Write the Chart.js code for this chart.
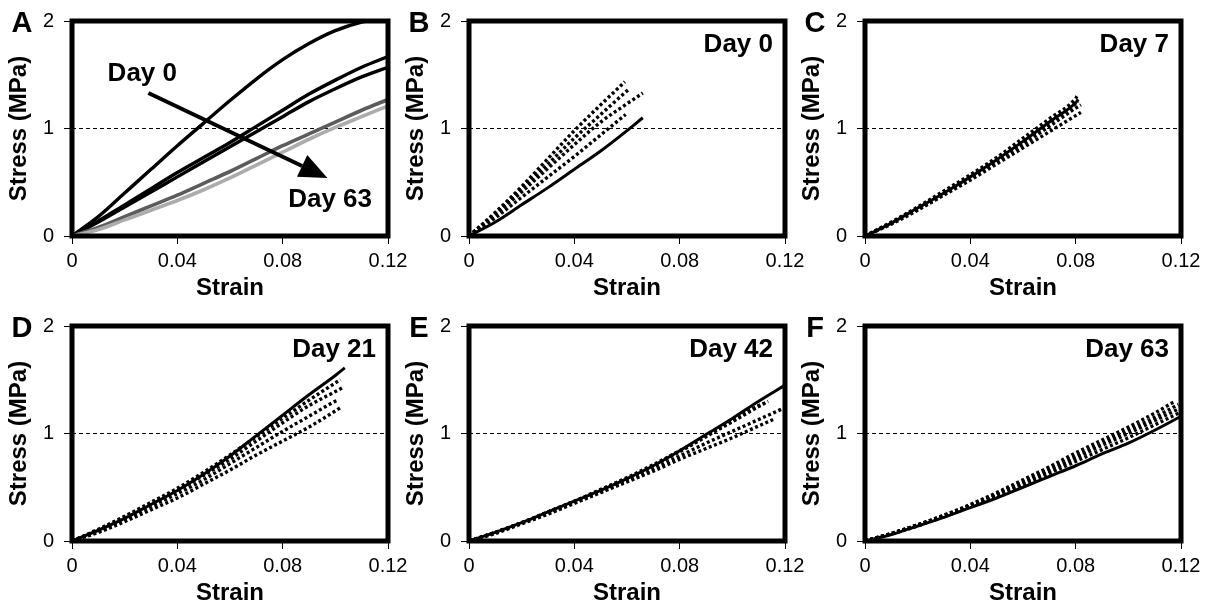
<!DOCTYPE html>
<html>
<head>
<meta charset="utf-8">
<title>Stress-strain curves</title>
<script src="https://cdn.jsdelivr.net/npm/chart.js@4.4.1/dist/chart.umd.min.js"></script>
<style>
  body { margin: 0; background: #fff; }
  #wrap { position: relative; width: 1208px; height: 613px; overflow: hidden; }
  #wrap canvas { position: absolute; }
</style>
</head>
<body>
<div id="wrap"></div>
<script>
// ---- axis ticks ----
const strainTicks = [0, 0.04, 0.08, 0.12];
const stressTicks = [0, 1, 2];

// ---- A: mean curve per time point ----
const strainA = [0, 0.01, 0.02, 0.03, 0.04, 0.05, 0.06, 0.07, 0.08, 0.09, 0.10, 0.11, 0.12];
const stressA_day0 = [0, 0.18, 0.40, 0.62, 0.84, 1.05, 1.26, 1.46, 1.64, 1.79, 1.91, 1.99, 2.03];
const stressA_day7 = [0, 0.14, 0.29, 0.44, 0.59, 0.73, 0.87, 1.02, 1.17, 1.32, 1.45, 1.57, 1.67];
const stressA_day21 = [0, 0.13, 0.27, 0.41, 0.55, 0.69, 0.83, 0.97, 1.11, 1.25, 1.37, 1.48, 1.57];
const stressA_day42 = [0, 0.08, 0.18, 0.28, 0.38, 0.49, 0.60, 0.72, 0.84, 0.95, 1.06, 1.17, 1.27];
const stressA_day63 = [0, 0.06, 0.15, 0.24, 0.33, 0.43, 0.54, 0.66, 0.78, 0.90, 1.01, 1.11, 1.21];
// arrow and its two labels, in data units [strain, stress]
const arrowFrom = [0.029, 1.33];
const arrowTo = [0.097, 0.54];
const labelDay0 = [0.0267, 1.51];
const labelDay63 = [0.098, 0.34];

// ---- B: day 0 samples ----
const strainB_s = [0, 0.01, 0.02, 0.03, 0.04, 0.05, 0.06, 0.066];
const stressB_s = [0, 0.13, 0.29, 0.45, 0.62, 0.79, 0.98, 1.10];
const strainB_1 = [0, 0.01, 0.02, 0.03, 0.04, 0.05, 0.0592];
const stressB_1 = [0, 0.22, 0.46, 0.72, 0.98, 1.22, 1.435];
const strainB_2 = [0, 0.01, 0.02, 0.03, 0.04, 0.05, 0.06, 0.061];
const stressB_2 = [0, 0.21, 0.44, 0.67, 0.91, 1.13, 1.35, 1.37];
const strainB_3 = [0, 0.01, 0.02, 0.03, 0.04, 0.05, 0.06, 0.066];
const stressB_3 = [0, 0.20, 0.41, 0.63, 0.85, 1.06, 1.23, 1.33];
const strainB_4 = [0, 0.01, 0.02, 0.03, 0.04, 0.05, 0.0595];
const stressB_4 = [0, 0.17, 0.36, 0.55, 0.74, 0.94, 1.13];

// ---- C: day 7 samples ----
const strainC_s = [0, 0.01, 0.02, 0.03, 0.04, 0.05, 0.06, 0.07, 0.08, 0.081];
const stressC_s = [0, 0.12, 0.26, 0.40, 0.55, 0.71, 0.88, 1.06, 1.24, 1.27];
const strainC_1 = [0, 0.01, 0.02, 0.03, 0.04, 0.05, 0.06, 0.07, 0.08, 0.0805];
const stressC_1 = [0, 0.13, 0.27, 0.42, 0.57, 0.73, 0.91, 1.09, 1.28, 1.30];
const strainC_2 = [0, 0.01, 0.02, 0.03, 0.04, 0.05, 0.06, 0.07, 0.08, 0.082];
const stressC_2 = [0, 0.12, 0.25, 0.39, 0.54, 0.69, 0.85, 1.02, 1.19, 1.22];
const strainC_3 = [0, 0.01, 0.02, 0.03, 0.04, 0.05, 0.06, 0.07, 0.08, 0.082];
const stressC_3 = [0, 0.11, 0.24, 0.38, 0.52, 0.67, 0.82, 0.97, 1.12, 1.15];
const strainC_4 = [0, 0.01, 0.02, 0.03, 0.04, 0.05, 0.06, 0.07, 0.08, 0.081];
const stressC_4 = [0, 0.12, 0.26, 0.40, 0.55, 0.71, 0.87, 1.05, 1.23, 1.25];

// ---- D: day 21 samples ----
const strainD_s = [0, 0.01, 0.02, 0.03, 0.04, 0.05, 0.06, 0.07, 0.08, 0.09, 0.10, 0.1036];
const stressD_s = [0, 0.10, 0.21, 0.34, 0.47, 0.62, 0.79, 0.98, 1.17, 1.36, 1.54, 1.61];
const strainD_1 = [0, 0.01, 0.02, 0.03, 0.04, 0.05, 0.06, 0.07, 0.08, 0.09, 0.10, 0.103];
const stressD_1 = [0, 0.10, 0.22, 0.34, 0.47, 0.61, 0.76, 0.93, 1.10, 1.26, 1.39, 1.43];
const strainD_2 = [0, 0.01, 0.02, 0.03, 0.04, 0.05, 0.06, 0.07, 0.08, 0.09, 0.10, 0.101];
const stressD_2 = [0, 0.09, 0.20, 0.32, 0.44, 0.57, 0.72, 0.87, 1.02, 1.16, 1.30, 1.31];
const strainD_3 = [0, 0.01, 0.02, 0.03, 0.04, 0.05, 0.06, 0.07, 0.08, 0.09, 0.10, 0.1025];
const stressD_3 = [0, 0.08, 0.18, 0.29, 0.40, 0.53, 0.66, 0.80, 0.93, 1.06, 1.21, 1.25];
const strainD_4 = [0, 0.01, 0.02, 0.03, 0.04, 0.05, 0.06, 0.07, 0.08, 0.09, 0.10, 0.102];
const stressD_4 = [0, 0.11, 0.23, 0.36, 0.49, 0.64, 0.80, 0.97, 1.14, 1.31, 1.47, 1.50];

// ---- E: day 42 samples ----
const strainE_s = [0, 0.01, 0.02, 0.03, 0.04, 0.05, 0.06, 0.07, 0.08, 0.09, 0.10, 0.11, 0.12];
const stressE_s = [0, 0.08, 0.17, 0.27, 0.37, 0.47, 0.58, 0.70, 0.84, 0.99, 1.14, 1.30, 1.45];
const strainE_1 = [0, 0.01, 0.02, 0.03, 0.04, 0.05, 0.06, 0.07, 0.08, 0.09, 0.10, 0.11, 0.1136];
const stressE_1 = [0, 0.08, 0.17, 0.27, 0.37, 0.47, 0.58, 0.70, 0.83, 0.97, 1.11, 1.25, 1.30];
const strainE_2 = [0, 0.01, 0.02, 0.03, 0.04, 0.05, 0.06, 0.07, 0.08, 0.09, 0.10, 0.11, 0.119];
const stressE_2 = [0, 0.08, 0.17, 0.26, 0.36, 0.46, 0.56, 0.67, 0.79, 0.91, 1.02, 1.13, 1.23];
const strainE_3 = [0, 0.01, 0.02, 0.03, 0.04, 0.05, 0.06, 0.07, 0.08, 0.09, 0.10, 0.11, 0.1155];
const stressE_3 = [0, 0.07, 0.16, 0.25, 0.35, 0.45, 0.55, 0.65, 0.76, 0.86, 0.96, 1.07, 1.13];
const strainE_4 = [0, 0.01, 0.02, 0.03, 0.04, 0.05, 0.06, 0.07, 0.08, 0.09, 0.10, 0.11, 0.112];
const stressE_4 = [0, 0.08, 0.17, 0.27, 0.37, 0.48, 0.59, 0.71, 0.84, 0.98, 1.12, 1.26, 1.28];

// ---- F: day 63 samples ----
const strainF_s = [0, 0.01, 0.02, 0.03, 0.04, 0.05, 0.06, 0.07, 0.08, 0.09, 0.10, 0.11, 0.12];
const stressF_s = [0, 0.06, 0.14, 0.22, 0.31, 0.40, 0.50, 0.60, 0.70, 0.81, 0.91, 1.03, 1.16];
const strainF_1 = [0, 0.01, 0.02, 0.03, 0.04, 0.05, 0.06, 0.07, 0.08, 0.09, 0.10, 0.11, 0.1177];
const stressF_1 = [0, 0.07, 0.15, 0.24, 0.34, 0.45, 0.57, 0.69, 0.82, 0.94, 1.06, 1.19, 1.30];
const strainF_2 = [0, 0.01, 0.02, 0.03, 0.04, 0.05, 0.06, 0.07, 0.08, 0.09, 0.10, 0.11, 0.12];
const stressF_2 = [0, 0.07, 0.15, 0.23, 0.33, 0.43, 0.54, 0.65, 0.77, 0.89, 1.00, 1.12, 1.24];
const strainF_3 = [0, 0.01, 0.02, 0.03, 0.04, 0.05, 0.06, 0.07, 0.08, 0.09, 0.10, 0.11, 0.12];
const stressF_3 = [0, 0.065, 0.14, 0.23, 0.32, 0.42, 0.52, 0.63, 0.74, 0.85, 0.96, 1.08, 1.20];
const strainF_4 = [0, 0.01, 0.02, 0.03, 0.04, 0.05, 0.06, 0.07, 0.08, 0.09, 0.10, 0.11, 0.119];
const stressF_4 = [0, 0.07, 0.15, 0.24, 0.33, 0.44, 0.55, 0.67, 0.79, 0.91, 1.03, 1.15, 1.27];

// line looks
const styles = {
  black:  { borderColor: '#000', borderWidth: 3.4 },
  dark:   { borderColor: '#5c5c5c', borderWidth: 3.6 },
  light:  { borderColor: '#acacac', borderWidth: 3.6 },
  solid:  { borderColor: '#000', borderWidth: 3 },
  dotted: { borderColor: '#000', borderWidth: 3.4, borderDash: [3, 2.6] }
};

const panels = [
  { letter: 'A', day: null, curves: [
    [strainA, stressA_day63, 'light'], [strainA, stressA_day42, 'dark'],
    [strainA, stressA_day21, 'black'], [strainA, stressA_day7, 'black'], [strainA, stressA_day0, 'black']] },
  { letter: 'B', day: 'Day 0', curves: [
    [strainB_1, stressB_1, 'dotted'], [strainB_2, stressB_2, 'dotted'], [strainB_3, stressB_3, 'dotted'],
    [strainB_4, stressB_4, 'dotted'], [strainB_s, stressB_s, 'solid']] },
  { letter: 'C', day: 'Day 7', curves: [
    [strainC_1, stressC_1, 'dotted'], [strainC_2, stressC_2, 'dotted'], [strainC_3, stressC_3, 'dotted'],
    [strainC_4, stressC_4, 'dotted'], [strainC_s, stressC_s, 'solid']] },
  { letter: 'D', day: 'Day 21', curves: [
    [strainD_1, stressD_1, 'dotted'], [strainD_2, stressD_2, 'dotted'], [strainD_3, stressD_3, 'dotted'],
    [strainD_4, stressD_4, 'dotted'], [strainD_s, stressD_s, 'solid']] },
  { letter: 'E', day: 'Day 42', curves: [
    [strainE_1, stressE_1, 'dotted'], [strainE_2, stressE_2, 'dotted'], [strainE_3, stressE_3, 'dotted'],
    [strainE_4, stressE_4, 'dotted'], [strainE_s, stressE_s, 'solid']] },
  { letter: 'F', day: 'Day 63', curves: [
    [strainF_1, stressF_1, 'dotted'], [strainF_2, stressF_2, 'dotted'], [strainF_3, stressF_3, 'dotted'],
    [strainF_4, stressF_4, 'dotted'], [strainF_s, stressF_s, 'solid']] }
];

Chart.defaults.font.family = '"Liberation Sans", Arial, sans-serif';
Chart.defaults.color = '#000';

const CANVAS_W = 412, CANVAS_H = 305;
const AXIS_W = 72, AXIS_H = 69, PAD_TOP = 21, PAD_RIGHT = 24;
const colLeft = [0, 397, 793];
const rowTop = [0, 305];

function drawArrow(ctx, x1, y1, x2, y2) {
  const ang = Math.atan2(y2 - y1, x2 - x1);
  const head = 28, half = 12;
  const bx = x2 - head * Math.cos(ang), by = y2 - head * Math.sin(ang);
  ctx.lineWidth = 4;
  ctx.beginPath();
  ctx.moveTo(x1, y1);
  ctx.lineTo(bx, by);
  ctx.stroke();
  ctx.beginPath();
  ctx.moveTo(x2, y2);
  ctx.lineTo(bx + half * Math.sin(ang), by - half * Math.cos(ang));
  ctx.lineTo(bx - half * Math.sin(ang), by + half * Math.cos(ang));
  ctx.closePath();
  ctx.fill();
}

// thick box, panel letter, day tag and the arrow in A
const panelDecor = {
  id: 'panelDecor',
  afterDraw(chart, args, opts) {
    const { ctx, chartArea: a, scales } = chart;
    ctx.save();
    ctx.strokeStyle = '#000';
    ctx.fillStyle = '#000';
    ctx.lineWidth = 5;
    ctx.strokeRect(a.left, a.top, a.right - a.left, a.bottom - a.top);

    ctx.textBaseline = 'middle';
    ctx.textAlign = 'center';
    ctx.font = 'bold 29px "Liberation Sans", Arial, sans-serif';
    ctx.fillText(opts.letter, a.left - 50, a.top + 3);

    ctx.font = 'bold 26px "Liberation Sans", Arial, sans-serif';
    if (opts.day) {
      ctx.textAlign = 'right';
      ctx.fillText(opts.day, a.right - 12, a.top + 24);
    }
    if (opts.arrow) {
      const px = p => [scales.x.getPixelForValue(p[0]), scales.y.getPixelForValue(p[1])];
      const [x1, y1] = px(arrowFrom);
      const [x2, y2] = px(arrowTo);
      drawArrow(ctx, x1, y1, x2, y2);
      ctx.textAlign = 'center';
      let [tx, ty] = px(labelDay0);
      ctx.fillText('Day 0', tx, ty);
      [tx, ty] = px(labelDay63);
      ctx.fillText('Day 63', tx, ty);
    }
    ctx.restore();
  }
};

function makePanel(p, i) {
  const canvas = document.createElement('canvas');
  canvas.width = CANVAS_W;
  canvas.height = CANVAS_H;
  canvas.style.left = colLeft[i % 3] + 'px';
  canvas.style.top = rowTop[Math.floor(i / 3)] + 'px';
  document.getElementById('wrap').appendChild(canvas);

  const datasets = p.curves.map(([xs, ys, look]) => Object.assign({
    data: xs.map((x, k) => ({ x, y: ys[k] })),
    pointRadius: 0,
    fill: false,
    borderCapStyle: 'butt',
    cubicInterpolationMode: 'monotone'
  }, styles[look]));

  new Chart(canvas, {
    type: 'line',
    data: { datasets },
    plugins: [panelDecor],
    options: {
      responsive: false,
      animation: false,
      events: [],
      layout: { padding: { top: PAD_TOP, right: PAD_RIGHT, left: 0, bottom: 0 } },
      plugins: {
        legend: { display: false },
        tooltip: { enabled: false },
        panelDecor: { letter: p.letter, day: p.day, arrow: p.letter === 'A' }
      },
      scales: {
        x: {
          type: 'linear', min: 0, max: 0.12,
          afterBuildTicks: s => { s.ticks = strainTicks.map(v => ({ value: v })); },
          afterFit: s => { s.height = AXIS_H; s.paddingLeft = 0; s.paddingRight = 0; },
          grid: { drawOnChartArea: false, drawTicks: true, tickLength: 8, tickColor: '#000', tickWidth: 1 },
          border: { display: false },
          ticks: { font: { size: 20 }, padding: 5, maxRotation: 0,
                   callback: v => v === 0 ? '0' : v.toFixed(2) },
          title: { display: true, text: 'Strain', font: { size: 24, weight: 'bold' }, padding: { top: 0, bottom: 2 } }
        },
        y: {
          type: 'linear', min: 0, max: 2,
          afterBuildTicks: s => { s.ticks = stressTicks.map(v => ({ value: v })); },
          afterFit: s => { s.width = AXIS_W; s.paddingTop = 0; s.paddingBottom = 0; },
          grid: {
            color: c => (c.tick && c.tick.value === 1) ? '#000' : 'rgba(0,0,0,0)',
            lineWidth: 1, drawTicks: true, tickLength: 8, tickColor: '#000', tickWidth: 1
          },
          border: { display: false, dash: [4, 3] },
          ticks: { font: { size: 20 }, padding: 10, callback: v => String(v) },
          title: { display: true, text: 'Stress (MPa)', font: { size: 24, weight: 'bold' }, padding: { top: 5, bottom: 0 } }
        }
      }
    }
  });
}

panels.forEach(makePanel);
</script>
</body>
</html>
